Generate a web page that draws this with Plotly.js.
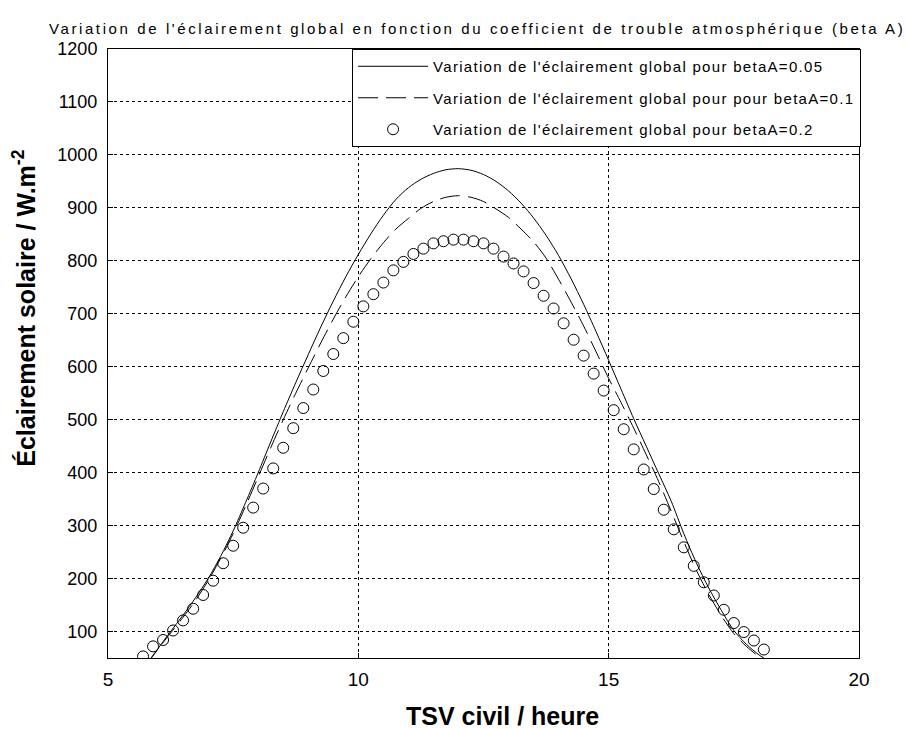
<!DOCTYPE html>
<html>
<head>
<meta charset="utf-8">
<script src="https://cdn.plot.ly/plotly-3.0.1.min.js"></script>
<style>
  html, body { margin: 0; padding: 0; background: #fff; }
  #chart { width: 914px; height: 729px; }
  .gtitle { letter-spacing: 2.6px; }
  .legendtext { letter-spacing: 1.3px; }
</style>
</head>
<body>
<div id="chart"></div>
<script>
// Solar time (hours) for the two continuous curves
const hoursLine = [5.75, 6.0, 6.25, 6.5, 6.75, 7.0, 7.25, 7.5, 7.75, 8.0, 8.25, 8.5, 8.75,
  9.0, 9.25, 9.5, 9.75, 10.0, 10.25, 10.5, 10.75, 11.0, 11.25, 11.5, 11.75, 12.0,
  12.25, 12.5, 12.75, 13.0, 13.25, 13.5, 13.75, 14.0, 14.25, 14.5, 14.75, 15.0,
  15.25, 15.5, 15.75, 16.0, 16.25, 16.5, 16.75, 17.0, 17.25, 17.5, 17.75, 18.0, 18.1];

// Global irradiance, betaA = 0.05 (W/m2)
const globalBeta005 = [36, 68, 100, 131, 164, 200, 242, 290, 344, 400, 458, 515, 570,
  623, 675, 724, 770, 812, 851, 886, 916, 938, 954, 965, 972, 974,
  971, 963, 950, 932, 909, 881, 848, 810, 766, 718, 666, 612,
  557, 502, 450, 398, 346, 285, 230, 182, 140, 102, 76, 56, 50];

// Global irradiance, betaA = 0.1 (W/m2)
const globalBeta01 = [35, 67, 97, 127, 159, 196, 238, 285, 337, 392, 447, 500, 550,
  598, 645, 690, 732, 770, 804, 834, 860, 880, 899, 912, 920, 923,
  920, 912, 898, 882, 860, 836, 805, 765, 722, 677, 628, 578,
  532, 484, 434, 383, 327, 270, 216, 170, 130, 96, 72, 53, 48];

// Solar time (hours) for the sampled points, betaA = 0.2
const hoursPts = [5.7, 5.9, 6.1, 6.3, 6.5, 6.7, 6.9, 7.1, 7.3, 7.5, 7.7, 7.9, 8.1, 8.3,
  8.5, 8.7, 8.9, 9.1, 9.3, 9.5, 9.7, 9.9, 10.1, 10.3, 10.5, 10.7, 10.9, 11.1, 11.3,
  11.5, 11.7, 11.9, 12.1, 12.3, 12.5, 12.7, 12.9, 13.1, 13.3, 13.5, 13.7, 13.9, 14.1,
  14.3, 14.5, 14.7, 14.9, 15.1, 15.3, 15.5, 15.7, 15.9, 16.1, 16.3, 16.5, 16.7, 16.9,
  17.1, 17.3, 17.5, 17.7, 17.9, 18.1];

// Global irradiance, betaA = 0.2 (W/m2)
const globalBeta02 = [53, 72, 84, 102, 121, 143, 169, 196, 229, 262, 296, 334, 370, 408,
  447, 484, 522, 557, 592, 624, 654, 685, 714, 737, 759, 782, 798, 813, 823,
  833, 837, 840, 840, 837, 833, 823, 808, 795, 780, 758, 734, 710, 682,
  651, 621, 587, 555, 518, 482, 444, 406, 369, 330, 293, 259, 224, 193,
  168, 141, 116, 99, 83, 66];

const xTicks = [5, 10, 15, 20];
const yTicks = [100, 200, 300, 400, 500, 600, 700, 800, 900, 1000, 1100, 1200];

const legendNames = [
  "Variation de l'éclairement global pour betaA=0.05",
  "Variation de l'éclairement global pour pour betaA=0.1",
  "Variation de l'éclairement global pour betaA=0.2"
];

const FONT = "Liberation Sans, Arial, Helvetica, sans-serif";

const traces = [
  {
    x: hoursLine, y: globalBeta005, name: legendNames[0], legendgroup: 'g1',
    type: 'scatter', mode: 'lines',
    line: { color: '#000', width: 1, shape: 'spline', smoothing: 0.8 }
  },
  {
    x: hoursLine, y: globalBeta01, name: legendNames[1], legendgroup: 'g2',
    type: 'scatter', mode: 'lines',
    line: { color: '#000', width: 1, dash: '20px,8px', shape: 'spline', smoothing: 0.8 }
  },
  {
    x: hoursPts, y: globalBeta02, name: legendNames[2], legendgroup: 'g3',
    type: 'scatter', mode: 'markers',
    marker: { symbol: 'circle-open', size: 11, color: '#000', line: { width: 1, color: '#000' } }
  }
];

const axisCommon = {
  showline: true, linecolor: '#000', linewidth: 1, mirror: 'ticks',
  ticks: 'inside', ticklen: 5, tickwidth: 1, tickcolor: '#000',
  showgrid: true, gridcolor: '#000', gridwidth: 1, griddash: '3px,3px',
  zeroline: false, fixedrange: true
};

const titleFont = { family: FONT, size: 25, weight: 'bold', color: '#000' };

const layout = {
  width: 914, height: 729,
  paper_bgcolor: '#fff', plot_bgcolor: '#fff',
  margin: { l: 108, r: 55, t: 49, b: 71, pad: 0 },
  font: { family: FONT, color: '#000' },
  title: {
    text: "Variation de l'éclairement global en fonction du coefficient de trouble atmosphérique (beta A)",
    font: { family: FONT, size: 15, color: '#000' },
    xref: 'container', x: 0.522, xanchor: 'center',
    yref: 'container', y: 0.96, yanchor: 'middle'
  },
  xaxis: Object.assign({}, axisCommon, {
    range: [5, 20], tickvals: xTicks, ticktext: xTicks.map(String),
    tickfont: { family: FONT, size: 19, color: '#000' },
    ticklabelstandoff: 4
  }),
  yaxis: Object.assign({}, axisCommon, {
    range: [50, 1200], tickvals: yTicks, ticktext: yTicks.map(String),
    tickfont: { family: FONT, size: 18, color: '#000' },
    ticklabelstandoff: 6
  }),
  // axis labels
  annotations: [
    {
      text: 'TSV civil / heure', font: titleFont, showarrow: false,
      xref: 'paper', yref: 'paper', x: 0.525, y: -0.096,
      xanchor: 'center', yanchor: 'middle'
    },
    {
      text: 'Éclairement solaire / W.m<sup>-2</sup>', font: titleFont, showarrow: false,
      textangle: -90,
      xref: 'paper', yref: 'paper', x: -0.112, y: 0.575,
      xanchor: 'center', yanchor: 'middle'
    }
  ],
  showlegend: true,
  legend: {
    x: 0.325, xanchor: 'left', y: 1, yanchor: 'top',
    bgcolor: '#fff', bordercolor: '#000', borderwidth: 1,
    font: { family: FONT, size: 15, color: '#000' },
    itemwidth: 70, traceorder: 'grouped', tracegroupgap: 9
  }
};

Plotly.newPlot('chart', traces, layout, { displayModeBar: false, staticPlot: true });
</script>
</body>
</html>
